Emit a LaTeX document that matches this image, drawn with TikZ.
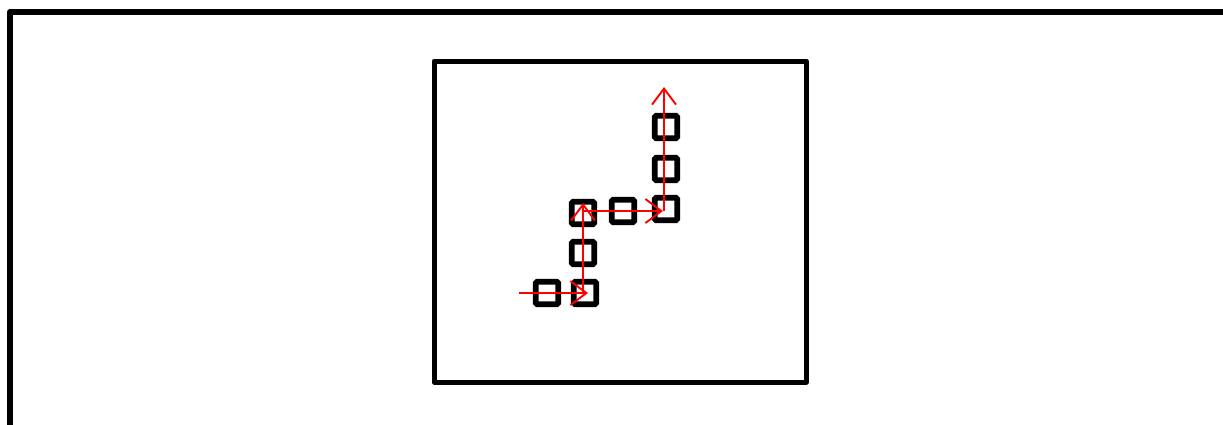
\documentclass[tikz,border=0pt]{standalone}
\usetikzlibrary{arrows.meta}
\begin{document}
\begin{tikzpicture}[x=1pt,y=-1pt,
  cell/.style={draw=black,line width=5.8pt,minimum size=22.5pt,inner sep=0pt,rounded corners=1.5pt},
  flow/.style={draw=red,line width=1.9pt,-{Straight Barb[length=16pt,width=24pt,line width=1.9pt]}}]
\useasboundingbox (0,0) rectangle (1223,424);
\clip (0,0) rectangle (1223,424);
\draw[line width=6pt,line join=round] (10,440) -- (10,12) -- (1240,12);
\draw[line width=5pt,line join=round] (434,61) rectangle (806,382);
\node[cell] (s1) at (547,293) {};
\node[cell] (s2) at (585,293) {};
\node[cell] (s3) at (583,253) {};
\node[cell] (s4) at (583,213) {};
\node[cell] (s5) at (623,211) {};
\node[cell] (s6) at (666,209) {};
\node[cell] (s7) at (666,169) {};
\node[cell] (s8) at (666,127) {};
\coordinate (in) at (519,293);
\coordinate (t1) at (588,293);
\coordinate (b2) at (583,293);
\coordinate (t2) at (583,203);
\coordinate (b3) at (583,211);
\coordinate (t3) at (663,211);
\coordinate (b4) at (664,211);
\coordinate (t4) at (664,87);
\draw[flow] (in) -- (t1);
\draw[flow] (b2) -- (t2);
\draw[flow] (b3) -- (t3);
\draw[flow] (b4) -- (t4);
\end{tikzpicture}
\end{document}
